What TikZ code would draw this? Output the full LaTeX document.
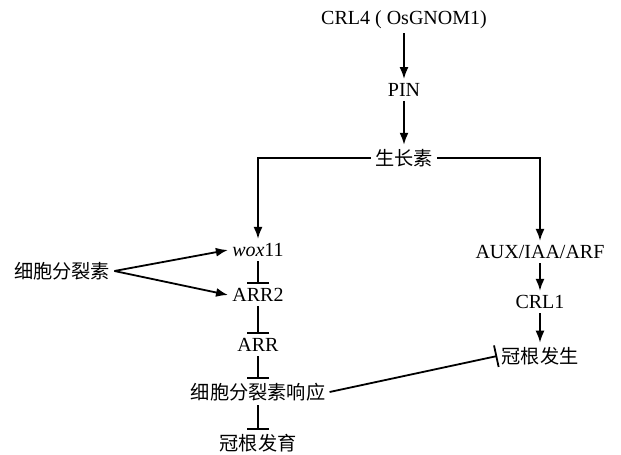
\documentclass[tikz,border=0pt]{standalone}
\usepackage{fontspec}
\setmainfont{Liberation Serif}
\newfontfamily\cjk{Noto Sans CJK SC}
\usetikzlibrary{arrows.meta}

\begin{document}
\begin{tikzpicture}[
  x=0.5pt, y=-0.5pt,
  lbl/.style={font=\fontsize{10}{12}\selectfont, inner sep=2pt},
  zh/.style={font=\fontsize{9.6}{12}\cjk, inner sep=2pt},
  arrow/.style={-{Latex[length=6pt,width=4.5pt]}, line width=0.9pt},
  inhib/.style={-{Bar[width=11pt,line width=0.9pt]}, line width=0.9pt}
]
  \useasboundingbox (0,0) rectangle (621,455);

  % auxin branch
  \node[lbl] (crl4)  at (404,20)  {CRL4 ( OsGNOM1)};
  \node[lbl] (pin)   at (404,90)  {PIN};
  \node[zh]  (auxin) at (404,158) {生长素};

  % left: cytokinin branch
  \node[lbl] (wox)    at (258,250) {\textit{wox}11};
  \node[lbl] (arr2)   at (258,295) {ARR2};
  \node[lbl] (arr)    at (258,345) {ARR};
  \node[zh]  (ckresp) at (258,392) {细胞分裂素响应};
  \node[zh]  (devel)  at (258,443) {冠根发育};
  \node[zh]  (ck)     at (62,271)  {细胞分裂素};

  % right branch
  \node[lbl] (aux)   at (540,252) {AUX/IAA/ARF};
  \node[lbl] (crl1)  at (540,302) {CRL1};
  \node[zh]  (emerg) at (540,356) {冠根发生};

  \draw[arrow] (crl4) -- (pin);
  \draw[arrow] (pin) -- (auxin);
  \draw[arrow] (auxin.west) -| (wox.north);
  \draw[arrow] (auxin.east) -| (aux.north);

  \draw[arrow] (ck.east) -- (wox.west);
  \draw[arrow] (ck.east) -- (arr2.west);
  \draw[inhib] (wox) -- (arr2);
  \draw[inhib] (arr2) -- (arr);
  \draw[inhib] (arr) -- (ckresp);
  \draw[inhib] (ckresp) -- (devel);

  \draw[arrow] (aux) -- (crl1);
  \draw[arrow] (crl1) -- (emerg);
  \draw[inhib] (ckresp.east) -- (emerg.west);
\end{tikzpicture}
\end{document}
